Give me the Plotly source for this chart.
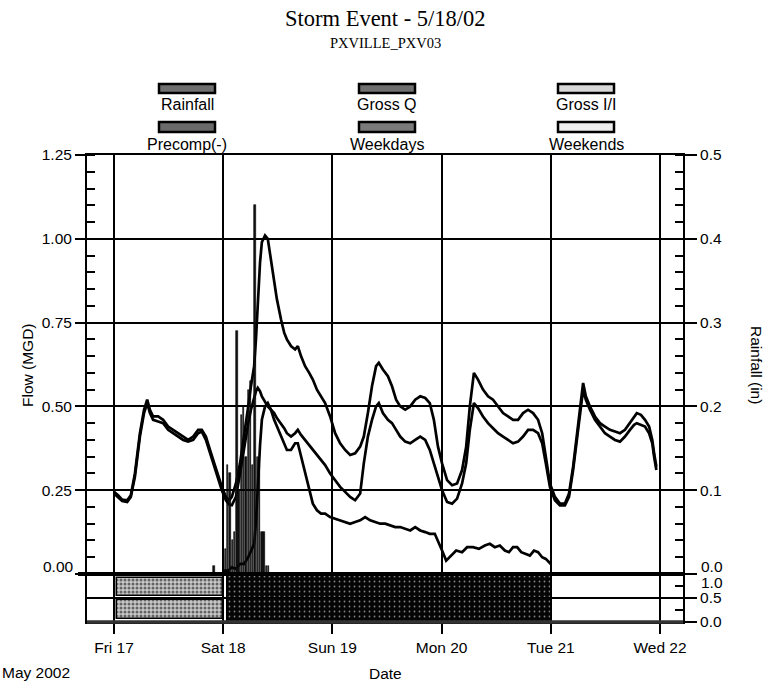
import pandas as pd
import plotly.graph_objects as go

START = pd.Timestamp("2002-05-17 00:00")

# ---- flow series: hours since Fri 17 May 2002 00:00 ----
flow_hours = [0, 0.9, 1.8, 2.9, 3.7, 4.6, 5.7, 6.6, 7.3, 7.9,
              8.6, 9.7, 10.8, 11.9, 13.0, 14.1, 15.2, 16.3, 17.4, 18.5,
              19.3, 20.2, 21.1, 22.0, 22.9, 23.7, 24.6, 25.3, 25.9, 26.8,
              27.7, 28.6, 29.5, 30.1, 30.8, 31.2, 31.6, 32.1, 32.5, 33.2,
              33.8, 34.5, 35.2, 35.8, 36.7, 37.4, 38.0, 38.9, 39.8, 40.4,
              41.1, 42.0, 42.9, 43.7, 44.6, 45.5, 46.4, 47.5, 48.6, 49.7,
              50.8, 51.9, 53.0, 54.1, 54.9, 55.8, 56.7, 57.6, 58.2, 59.1,
              60.2, 61.1, 62.0, 62.9, 64.0, 65.1, 66.2, 67.3, 68.4, 69.4,
              70.3, 71.2, 72.1, 73.2, 74.3, 75.4, 76.5, 77.4, 78.2, 79.1,
              80.0, 81.1, 82.2, 83.3, 84.4, 85.5, 86.6, 87.7, 88.8, 89.9,
              91.0, 92.1, 93.2, 94.1, 94.9, 95.8, 96.9, 98.0, 99.1, 100.0,
              100.9, 101.8, 102.4, 103.1, 103.7, 104.6, 105.7, 106.8, 107.9, 109.0,
              110.1, 111.2, 112.3, 113.4, 114.3, 114.9, 115.8, 116.7, 117.6, 118.3,
              118.7, 119.2]

gross_q = [0.245, 0.235, 0.222, 0.22, 0.235, 0.30, 0.42, 0.49, 0.52, 0.49,
           0.47, 0.47, 0.46, 0.44, 0.43, 0.42, 0.41, 0.40, 0.41, 0.43,
           0.43, 0.41, 0.37, 0.33, 0.29, 0.26, 0.23, 0.22, 0.23, 0.27,
           0.33, 0.41, 0.50, 0.56, 0.62, 0.70, 0.82, 0.93, 0.99, 1.01,
           1.00, 0.94, 0.88, 0.82, 0.76, 0.72, 0.70, 0.68, 0.67, 0.68,
           0.65, 0.62, 0.60, 0.58, 0.55, 0.53, 0.51, 0.47, 0.42, 0.39,
           0.37, 0.355, 0.36, 0.38, 0.41, 0.48, 0.56, 0.62, 0.63, 0.61,
           0.59, 0.56, 0.52, 0.50, 0.49, 0.50, 0.52, 0.53, 0.525, 0.51,
           0.46, 0.38, 0.33, 0.28, 0.265, 0.27, 0.31, 0.38, 0.50, 0.60,
           0.58, 0.55, 0.53, 0.52, 0.50, 0.48, 0.47, 0.46, 0.46, 0.48,
           0.49, 0.48, 0.46, 0.42, 0.35, 0.27, 0.23, 0.21, 0.21, 0.24,
           0.32, 0.42, 0.50, 0.57, 0.53, 0.50, 0.47, 0.45, 0.44, 0.43,
           0.425, 0.42, 0.43, 0.45, 0.47, 0.48, 0.475, 0.46, 0.44, 0.40,
           0.36, 0.32]

precomp = [0.24, 0.23, 0.218, 0.215, 0.23, 0.29, 0.41, 0.48, 0.51, 0.48,
           0.46, 0.455, 0.45, 0.43, 0.42, 0.41, 0.40, 0.395, 0.40, 0.42,
           0.425, 0.40, 0.36, 0.32, 0.28, 0.25, 0.22, 0.207, 0.205, 0.23,
           0.30, 0.38, 0.45, 0.49, 0.53, 0.545, 0.555, 0.545, 0.53, 0.515,
           0.50, 0.49, 0.48, 0.465, 0.45, 0.435, 0.42, 0.41, 0.42, 0.43,
           0.415, 0.40, 0.385, 0.37, 0.355, 0.34, 0.325, 0.30, 0.28, 0.26,
           0.245, 0.23, 0.22, 0.24, 0.33, 0.41, 0.46, 0.50, 0.51, 0.48,
           0.46, 0.45, 0.43, 0.41, 0.395, 0.39, 0.40, 0.41, 0.40, 0.37,
           0.33, 0.29, 0.25, 0.215, 0.21, 0.225, 0.27, 0.33, 0.43, 0.51,
           0.495, 0.47, 0.45, 0.435, 0.42, 0.41, 0.40, 0.39, 0.395, 0.41,
           0.43, 0.43, 0.42, 0.39, 0.33, 0.26, 0.22, 0.205, 0.205, 0.23,
           0.31, 0.41, 0.49, 0.55, 0.52, 0.49, 0.46, 0.44, 0.42, 0.41,
           0.40, 0.395, 0.41, 0.43, 0.445, 0.45, 0.445, 0.44, 0.42, 0.39,
           0.35, 0.31]

ii_hours = [24.0, 25.1, 25.9, 26.8, 27.7, 28.6, 29.5, 30.1, 30.8, 31.2,
            31.6, 32.1, 32.5, 33.2, 33.8, 34.5, 35.2, 35.8, 36.7, 37.4,
            38.0, 38.9, 39.8, 40.4, 41.1, 42.0, 42.9, 43.7, 44.6, 45.5,
            46.4, 47.5, 48.6, 49.7, 50.8, 51.9, 53.0, 54.1, 55.2, 56.3,
            57.4, 58.5, 59.6, 60.7, 61.8, 62.9, 64.0, 65.1, 66.2, 67.3,
            68.4, 69.4, 70.5, 71.2, 72.1, 73.0, 73.8, 75.2, 76.5, 77.6,
            78.9, 80.2, 81.5, 82.6, 83.7, 84.8, 85.9, 86.8, 87.7, 88.6,
            89.5, 90.3, 91.4, 92.3, 93.2, 94.1, 94.9, 96.0]

gross_ii = [0.01, 0.01, 0.02, 0.015, 0.03, 0.03, 0.05, 0.07, 0.09, 0.155,
            0.265, 0.385, 0.46, 0.50, 0.51, 0.49, 0.46, 0.44, 0.41, 0.39,
            0.37, 0.37, 0.39, 0.39, 0.35, 0.30, 0.25, 0.21, 0.19, 0.18,
            0.18, 0.17, 0.165, 0.16, 0.155, 0.15, 0.155, 0.16, 0.17, 0.16,
            0.155, 0.15, 0.15, 0.145, 0.14, 0.14, 0.135, 0.13, 0.14, 0.13,
            0.125, 0.12, 0.12, 0.10, 0.07, 0.04, 0.05, 0.07, 0.065, 0.08,
            0.08, 0.075, 0.085, 0.09, 0.08, 0.085, 0.07, 0.065, 0.08, 0.08,
            0.065, 0.06, 0.055, 0.07, 0.065, 0.05, 0.045, 0.03]

# ---- rainfall (in), 30-minute totals ----
rain_hours = [22.0, 24.0, 24.5, 25.0, 25.5, 26.0, 26.5, 27.0, 27.5, 28.0,
              28.5, 29.0, 29.5, 30.0, 30.5, 31.0, 31.5, 32.0, 32.5, 33.0,
              33.5, 34.0]
rain_in = [0.01, 0.02, 0.03, 0.13, 0.12, 0.04, 0.05, 0.29, 0.10, 0.19,
           0.20, 0.14, 0.22, 0.23, 0.13, 0.44, 0.14, 0.13, 0.05, 0.05,
           0.01, 0.01]
RAIN_STEP_H = 0.5

# ---- bottom indicator strip ----
strip_names = ["Weekdays", "Weekends"]
strip_start_h = [0.7, 24.8]
strip_end_h = [23.9, 96.0]

assert len(flow_hours) == len(gross_q) == len(precomp)
assert len(ii_hours) == len(gross_ii)
assert len(rain_hours) == len(rain_in)


def to_time(hours):
    return [START + pd.Timedelta(hours=h) for h in hours]


# ---- pixel helpers for layout ----
L, R, T, B = 87, 683, 155, 622
W, H = R - L, B - T


def px(xp):
    return (xp - L) / W


def py(yp):
    return (B - yp) / H


strip_top = py(574)

fig = go.Figure()

# strip bars
light_pat = dict(shape=".", fgcolor="black", bgcolor="#c8c8c8", size=4, solidity=0.45)
dark_pat = dict(shape=".", fgcolor="white", bgcolor="#050505", size=5, solidity=0.1)
for i, name in enumerate(strip_names):
    s = START + pd.Timedelta(hours=strip_start_h[i])
    e = START + pd.Timedelta(hours=strip_end_h[i])
    center = s + (e - s) / 2
    width_ms = (e - s).total_seconds() * 1000
    if i == 0:
        rows = [(0.55, 0.36), (0.07, 0.38)]
        pat, lw = light_pat, 1.5
    else:
        rows = [(0.5, 0.5), (0.0, 0.5)]
        pat, lw = dark_pat, 1
    for base, h in rows:
        fig.add_trace(go.Bar(
            x=[center], y=[h], base=[base], width=[width_ms], yaxis="y3",
            marker=dict(color="black", pattern=pat, line=dict(color="black", width=lw)),
            name=name, showlegend=False, hoverinfo="skip"))

# flow lines
line_style = dict(color="black", width=2.7)
fig.add_trace(go.Scatter(x=to_time(flow_hours), y=precomp, mode="lines",
                         line=line_style, name="Precomp(-)"))
fig.add_trace(go.Scatter(x=to_time(ii_hours), y=gross_ii, mode="lines",
                         line=line_style, name="Gross I/I"))
fig.add_trace(go.Scatter(x=to_time(flow_hours), y=gross_q, mode="lines",
                         line=line_style, name="Gross Q"))

# rainfall bars
fig.add_trace(go.Bar(x=to_time(rain_hours), y=rain_in, yaxis="y2",
                     width=[RAIN_STEP_H * 0.6 * 3600 * 1000] * len(rain_in),
                     marker=dict(color="#111111", line=dict(color="black", width=0.6)),
                     name="Rainfall"))

font_sans = "Liberation Sans, Arial, sans-serif"
font_serif = "Liberation Serif, Times New Roman, serif"
FS = 15.5

x_range = [START + pd.Timedelta(hours=-5.93), START + pd.Timedelta(hours=125.05)]

fig.update_layout(
    width=771, height=688,
    margin=dict(l=L, r=771 - R, t=T, b=688 - B),
    paper_bgcolor="white", plot_bgcolor="white",
    showlegend=False, barmode="overlay", bargap=0,
    font=dict(family=font_sans, size=FS, color="black"),
    xaxis=dict(
        type="date", range=x_range, anchor="y3",
        tick0="2002-05-17", dtick=86400000, tickformat="%a %d",
        ticks="outside", ticklen=10, tickwidth=1.5, tickcolor="black",
        showgrid=True, gridcolor="black", gridwidth=2,
        showline=True, linecolor="black", linewidth=2, mirror="all",
        zeroline=False, tickfont=dict(size=FS),
    ),
    yaxis=dict(
        domain=[strip_top, 1], range=[0, 1.25],
        tickmode="array", tickvals=[0, 0.25, 0.5, 0.75, 1.0, 1.25],
        ticktext=["", "0.25", "0.50", "0.75", "1.00", "1.25"],
        ticks="outside", ticklen=10, tickwidth=1.5, tickcolor="black",
        showgrid=True, gridcolor="black", gridwidth=1.8,
        zeroline=True, zerolinecolor="black", zerolinewidth=3.5,
        showline=True, linecolor="black", linewidth=2, mirror=True,
        minor=dict(tickmode="linear", tick0=0, dtick=0.05, ticks="inside",
                   ticklen=8, tickwidth=1.5, tickcolor="black", showgrid=False),
    ),
    yaxis2=dict(
        overlaying="y", side="right", range=[0, 0.5],
        tickmode="array", tickvals=[0, 0.1, 0.2, 0.3, 0.4, 0.5],
        ticktext=["", "0.1", "0.2", "0.3", "0.4", "0.5"],
        ticks="outside", ticklen=12, tickwidth=1.5, tickcolor="black",
        showgrid=False, zeroline=False,
        showline=True, linecolor="black", linewidth=2,
        minor=dict(tickmode="linear", tick0=0, dtick=0.02, ticks="inside",
                   ticklen=8, tickwidth=1.5, tickcolor="black", showgrid=False),
    ),
    yaxis3=dict(
        domain=[0, strip_top], range=[0, 1], side="right", anchor="x",
        tickmode="array", tickvals=[0, 0.5, 1.0], ticktext=["0.0", "0.5", ""],
        ticks="outside", ticklen=12, tickwidth=1.5, tickcolor="black",
        showgrid=True, gridcolor="black", gridwidth=1.8, zeroline=False,
        showline=True, linecolor="black", linewidth=2, mirror=True,
        minor=dict(tickmode="linear", tick0=0.25, dtick=0.5, ticks="inside",
                   ticklen=8, tickwidth=1.5, tickcolor="black", showgrid=False),
    ),
)

ann = []


def add_text(text, xp, yp, size=FS, family=font_sans, xanchor="center", angle=0):
    ann.append(dict(text=text, x=px(xp), y=py(yp), xref="paper", yref="paper",
                    showarrow=False, xanchor=xanchor, yanchor="middle", textangle=angle,
                    font=dict(family=family, size=size, color="black")))


add_text("Storm Event - 5/18/02", 385, 18, size=22.5, family=font_serif)
add_text("PXVILLE_PXV03", 385, 43, size=14.5, family=font_serif)

legend_items = [("Rainfall", 187, 0), ("Gross Q", 387, 0), ("Gross I/I", 586, 0),
                ("Precomp(-)", 187, 1), ("Weekdays", 387, 1), ("Weekends", 586, 1)]
label_y = [104, 144]
swatch_y = [(84, 93), (122, 132)]
swatch_fill = ["#6f6f6f", "#6f6f6f", "#d8d8d8", "#6a6a6a", "#7a7a7a", "#eeeeee"]
shapes = []
for k, (lab, cx, row) in enumerate(legend_items):
    add_text(lab, cx, label_y[row], size=16)
    y0, y1 = swatch_y[row]
    shapes.append(dict(type="rect", xref="paper", yref="paper",
                       x0=px(cx - 28), x1=px(cx + 28), y0=py(y1), y1=py(y0),
                       fillcolor=swatch_fill[k], line=dict(color="black", width=2.5)))

# heavier textured baseline under the strip, and heavy divider above it
shapes.append(dict(type="line", xref="paper", yref="paper", x0=0, x1=1, y0=0, y1=0,
                   line=dict(color="#333333", width=3.5)))
shapes.append(dict(type="line", xref="paper", yref="paper", x0=px(78), x1=1,
                   y0=strip_top, y1=strip_top, line=dict(color="black", width=4)))

add_text("Flow (MGD)", 27, 365, angle=-90)
add_text("Rainfall (in)", 757, 365, angle=90)
add_text("May 2002", 36, 672)
add_text("Date", 385, 673)
add_text("0.00", 76, 566, xanchor="right")
add_text("0.0", 699, 566, xanchor="left")
add_text("1.0", 699, 582, xanchor="left")

fig.update_layout(annotations=ann, shapes=shapes)

fig.write_html("out.html")
